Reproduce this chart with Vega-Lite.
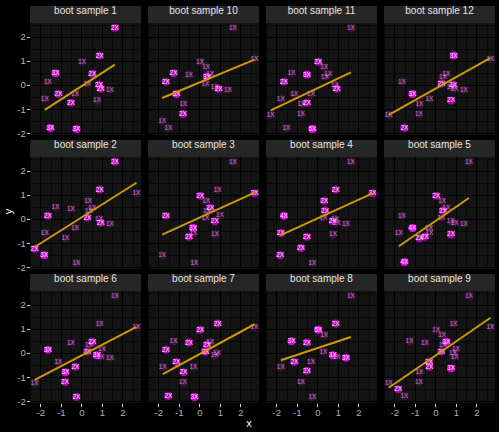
{
"$schema": "https://vega.github.io/schema/vega-lite/v6.json",
"background": "#000000",
"padding": {"left": 2, "top": 6, "right": 4, "bottom": 2},
"title": {"text": "x", "orient": "bottom", "anchor": "middle", "color": "#ffffff", "fontSize": 11, "fontWeight": "normal", "font": "Liberation Sans", "offset": 1},
"data": {"values": [
{"panel":"boot sample 1","kind":"strip"},
{"panel":"boot sample 2","kind":"strip"},
{"panel":"boot sample 3","kind":"strip"},
{"panel":"boot sample 4","kind":"strip"},
{"panel":"boot sample 5","kind":"strip"},
{"panel":"boot sample 6","kind":"strip"},
{"panel":"boot sample 7","kind":"strip"},
{"panel":"boot sample 8","kind":"strip"},
{"panel":"boot sample 9","kind":"strip"},
{"panel":"boot sample 10","kind":"strip"},
{"panel":"boot sample 11","kind":"strip"},
{"panel":"boot sample 12","kind":"strip"},
{"panel":"boot sample 1","kind":"pt","x":1.63,"y":2.37,"n":2,"label":"2X"},
{"panel":"boot sample 1","kind":"pt","x":0.89,"y":1.22,"n":2,"label":"2X"},
{"panel":"boot sample 1","kind":"pt","x":0.04,"y":0.96,"n":1,"label":"1X"},
{"panel":"boot sample 1","kind":"pt","x":-1.26,"y":0.49,"n":3,"label":"3X"},
{"panel":"boot sample 1","kind":"pt","x":0.53,"y":0.47,"n":2,"label":"2X"},
{"panel":"boot sample 1","kind":"pt","x":-1.63,"y":0.13,"n":1,"label":"1X"},
{"panel":"boot sample 1","kind":"pt","x":0.29,"y":0.06,"n":1,"label":"1X"},
{"panel":"boot sample 1","kind":"pt","x":0.86,"y":0.01,"n":2,"label":"2X"},
{"panel":"boot sample 1","kind":"pt","x":0.94,"y":-0.16,"n":2,"label":"2X"},
{"panel":"boot sample 1","kind":"pt","x":1.39,"y":-0.2,"n":1,"label":"1X"},
{"panel":"boot sample 1","kind":"pt","x":-1.12,"y":-0.37,"n":2,"label":"2X"},
{"panel":"boot sample 1","kind":"pt","x":-0.31,"y":-0.36,"n":1,"label":"1X"},
{"panel":"boot sample 1","kind":"pt","x":-1.78,"y":-0.58,"n":1,"label":"1X"},
{"panel":"boot sample 1","kind":"pt","x":-0.51,"y":-0.74,"n":2,"label":"2X"},
{"panel":"boot sample 1","kind":"pt","x":0.76,"y":-0.64,"n":1,"label":"1X"},
{"panel":"boot sample 1","kind":"pt","x":-1.51,"y":-1.78,"n":3,"label":"3X"},
{"panel":"boot sample 1","kind":"pt","x":-0.24,"y":-1.82,"n":3,"label":"3X"},
{"panel":"boot sample 1","kind":"ln","x":-1.78,"y":-1.03},
{"panel":"boot sample 1","kind":"ln","x":1.63,"y":0.84},

{"panel":"boot sample 10","kind":"pt","x":1.63,"y":2.37,"n":1,"label":"1X"},
{"panel":"boot sample 10","kind":"pt","x":2.68,"y":1.07,"n":1,"label":"1X"},
{"panel":"boot sample 10","kind":"pt","x":0.04,"y":0.96,"n":1,"label":"1X"},
{"panel":"boot sample 10","kind":"pt","x":0.33,"y":0.76,"n":1,"label":"1X"},
{"panel":"boot sample 10","kind":"pt","x":-1.26,"y":0.49,"n":2,"label":"2X"},
{"panel":"boot sample 10","kind":"pt","x":-0.51,"y":0.43,"n":1,"label":"1X"},
{"panel":"boot sample 10","kind":"pt","x":0.53,"y":0.47,"n":1,"label":"1X"},
{"panel":"boot sample 10","kind":"pt","x":0.37,"y":0.35,"n":3,"label":"3X"},
{"panel":"boot sample 10","kind":"pt","x":-1.63,"y":0.13,"n":2,"label":"2X"},
{"panel":"boot sample 10","kind":"pt","x":0.29,"y":0.06,"n":1,"label":"1X"},
{"panel":"boot sample 10","kind":"pt","x":0.75,"y":-0.09,"n":1,"label":"1X"},
{"panel":"boot sample 10","kind":"pt","x":0.94,"y":-0.16,"n":2,"label":"2X"},
{"panel":"boot sample 10","kind":"pt","x":1.39,"y":-0.2,"n":1,"label":"1X"},
{"panel":"boot sample 10","kind":"pt","x":-1.12,"y":-0.37,"n":3,"label":"3X"},
{"panel":"boot sample 10","kind":"pt","x":-0.78,"y":-0.8,"n":1,"label":"1X"},
{"panel":"boot sample 10","kind":"pt","x":-0.8,"y":-1.2,"n":2,"label":"2X"},
{"panel":"boot sample 10","kind":"pt","x":-1.81,"y":-1.5,"n":1,"label":"1X"},
{"panel":"boot sample 10","kind":"pt","x":-1.51,"y":-1.78,"n":1,"label":"1X"},
{"panel":"boot sample 10","kind":"ln","x":-1.81,"y":-0.54},
{"panel":"boot sample 10","kind":"ln","x":2.68,"y":1.05},

{"panel":"boot sample 11","kind":"pt","x":1.63,"y":2.37,"n":1,"label":"1X"},
{"panel":"boot sample 11","kind":"pt","x":0.04,"y":0.96,"n":2,"label":"2X"},
{"panel":"boot sample 11","kind":"pt","x":0.33,"y":0.76,"n":1,"label":"1X"},
{"panel":"boot sample 11","kind":"pt","x":-1.26,"y":0.49,"n":1,"label":"1X"},
{"panel":"boot sample 11","kind":"pt","x":-0.51,"y":0.43,"n":3,"label":"3X"},
{"panel":"boot sample 11","kind":"pt","x":0.53,"y":0.47,"n":1,"label":"1X"},
{"panel":"boot sample 11","kind":"pt","x":0.37,"y":0.35,"n":1,"label":"1X"},
{"panel":"boot sample 11","kind":"pt","x":-1.63,"y":0.13,"n":2,"label":"2X"},
{"panel":"boot sample 11","kind":"pt","x":0.86,"y":0.01,"n":1,"label":"1X"},
{"panel":"boot sample 11","kind":"pt","x":0.94,"y":-0.16,"n":2,"label":"2X"},
{"panel":"boot sample 11","kind":"pt","x":-1.12,"y":-0.37,"n":1,"label":"1X"},
{"panel":"boot sample 11","kind":"pt","x":-0.31,"y":-0.36,"n":1,"label":"1X"},
{"panel":"boot sample 11","kind":"pt","x":-1.78,"y":-0.58,"n":1,"label":"1X"},
{"panel":"boot sample 11","kind":"pt","x":-0.78,"y":-0.8,"n":1,"label":"1X"},
{"panel":"boot sample 11","kind":"pt","x":-0.51,"y":-0.74,"n":2,"label":"2X"},
{"panel":"boot sample 11","kind":"pt","x":-2.27,"y":-1.23,"n":1,"label":"1X"},
{"panel":"boot sample 11","kind":"pt","x":-0.8,"y":-1.2,"n":1,"label":"1X"},
{"panel":"boot sample 11","kind":"pt","x":-1.51,"y":-1.78,"n":1,"label":"1X"},
{"panel":"boot sample 11","kind":"pt","x":-0.24,"y":-1.82,"n":5,"label":"5X"},
{"panel":"boot sample 11","kind":"ln","x":-2.27,"y":-1.05},
{"panel":"boot sample 11","kind":"ln","x":1.63,"y":0.52},

{"panel":"boot sample 12","kind":"pt","x":0.89,"y":1.22,"n":3,"label":"3X"},
{"panel":"boot sample 12","kind":"pt","x":2.68,"y":1.07,"n":1,"label":"1X"},
{"panel":"boot sample 12","kind":"pt","x":-1.63,"y":0.13,"n":1,"label":"1X"},
{"panel":"boot sample 12","kind":"pt","x":0.53,"y":0.47,"n":1,"label":"1X"},
{"panel":"boot sample 12","kind":"pt","x":0.37,"y":0.35,"n":1,"label":"1X"},
{"panel":"boot sample 12","kind":"pt","x":0.29,"y":0.06,"n":2,"label":"2X"},
{"panel":"boot sample 12","kind":"pt","x":0.86,"y":0.01,"n":2,"label":"2X"},
{"panel":"boot sample 12","kind":"pt","x":0.75,"y":-0.09,"n":1,"label":"1X"},
{"panel":"boot sample 12","kind":"pt","x":0.94,"y":-0.16,"n":1,"label":"1X"},
{"panel":"boot sample 12","kind":"pt","x":1.39,"y":-0.2,"n":1,"label":"1X"},
{"panel":"boot sample 12","kind":"pt","x":-1.12,"y":-0.37,"n":3,"label":"3X"},
{"panel":"boot sample 12","kind":"pt","x":-0.29,"y":-0.57,"n":1,"label":"1X"},
{"panel":"boot sample 12","kind":"pt","x":-0.78,"y":-0.8,"n":1,"label":"1X"},
{"panel":"boot sample 12","kind":"pt","x":0.76,"y":-0.64,"n":2,"label":"2X"},
{"panel":"boot sample 12","kind":"pt","x":-2.27,"y":-1.23,"n":1,"label":"1X"},
{"panel":"boot sample 12","kind":"pt","x":-0.8,"y":-1.2,"n":1,"label":"1X"},
{"panel":"boot sample 12","kind":"pt","x":-1.51,"y":-1.78,"n":2,"label":"2X"},
{"panel":"boot sample 12","kind":"ln","x":-2.27,"y":-1.24},
{"panel":"boot sample 12","kind":"ln","x":2.68,"y":1.12},

{"panel":"boot sample 2","kind":"pt","x":1.63,"y":2.37,"n":2,"label":"2X"},
{"panel":"boot sample 2","kind":"pt","x":0.89,"y":1.22,"n":2,"label":"2X"},
{"panel":"boot sample 2","kind":"pt","x":2.68,"y":1.07,"n":1,"label":"1X"},
{"panel":"boot sample 2","kind":"pt","x":0.33,"y":0.76,"n":1,"label":"1X"},
{"panel":"boot sample 2","kind":"pt","x":-1.26,"y":0.49,"n":1,"label":"1X"},
{"panel":"boot sample 2","kind":"pt","x":-0.51,"y":0.43,"n":1,"label":"1X"},
{"panel":"boot sample 2","kind":"pt","x":0.37,"y":0.35,"n":1,"label":"1X"},
{"panel":"boot sample 2","kind":"pt","x":0.53,"y":0.47,"n":1,"label":"1X"},
{"panel":"boot sample 2","kind":"pt","x":-1.63,"y":0.13,"n":2,"label":"2X"},
{"panel":"boot sample 2","kind":"pt","x":0.29,"y":0.06,"n":2,"label":"2X"},
{"panel":"boot sample 2","kind":"pt","x":0.86,"y":0.01,"n":1,"label":"1X"},
{"panel":"boot sample 2","kind":"pt","x":0.94,"y":-0.16,"n":2,"label":"2X"},
{"panel":"boot sample 2","kind":"pt","x":1.39,"y":-0.2,"n":1,"label":"1X"},
{"panel":"boot sample 2","kind":"pt","x":-0.31,"y":-0.36,"n":1,"label":"1X"},
{"panel":"boot sample 2","kind":"pt","x":-1.78,"y":-0.58,"n":1,"label":"1X"},
{"panel":"boot sample 2","kind":"pt","x":-0.78,"y":-0.8,"n":1,"label":"1X"},
{"panel":"boot sample 2","kind":"pt","x":-2.27,"y":-1.23,"n":2,"label":"2X"},
{"panel":"boot sample 2","kind":"pt","x":-1.81,"y":-1.5,"n":3,"label":"3X"},
{"panel":"boot sample 2","kind":"pt","x":-0.24,"y":-1.82,"n":1,"label":"1X"},
{"panel":"boot sample 2","kind":"ln","x":-2.27,"y":-1.16},
{"panel":"boot sample 2","kind":"ln","x":2.68,"y":1.5},

{"panel":"boot sample 3","kind":"pt","x":1.63,"y":2.37,"n":1,"label":"1X"},
{"panel":"boot sample 3","kind":"pt","x":0.89,"y":1.22,"n":1,"label":"1X"},
{"panel":"boot sample 3","kind":"pt","x":2.68,"y":1.07,"n":2,"label":"2X"},
{"panel":"boot sample 3","kind":"pt","x":0.04,"y":0.96,"n":2,"label":"2X"},
{"panel":"boot sample 3","kind":"pt","x":0.33,"y":0.76,"n":1,"label":"1X"},
{"panel":"boot sample 3","kind":"pt","x":0.53,"y":0.47,"n":2,"label":"2X"},
{"panel":"boot sample 3","kind":"pt","x":0.37,"y":0.35,"n":1,"label":"1X"},
{"panel":"boot sample 3","kind":"pt","x":0.29,"y":0.06,"n":1,"label":"1X"},
{"panel":"boot sample 3","kind":"pt","x":1.0,"y":0.15,"n":1,"label":"1X"},
{"panel":"boot sample 3","kind":"pt","x":-1.63,"y":0.13,"n":2,"label":"2X"},
{"panel":"boot sample 3","kind":"pt","x":0.75,"y":-0.09,"n":2,"label":"2X"},
{"panel":"boot sample 3","kind":"pt","x":-0.31,"y":-0.36,"n":3,"label":"3X"},
{"panel":"boot sample 3","kind":"pt","x":-0.29,"y":-0.57,"n":1,"label":"1X"},
{"panel":"boot sample 3","kind":"pt","x":-0.51,"y":-0.74,"n":2,"label":"2X"},
{"panel":"boot sample 3","kind":"pt","x":0.76,"y":-0.64,"n":1,"label":"1X"},
{"panel":"boot sample 3","kind":"pt","x":-1.81,"y":-1.5,"n":1,"label":"1X"},
{"panel":"boot sample 3","kind":"pt","x":-0.24,"y":-1.82,"n":1,"label":"1X"},
{"panel":"boot sample 3","kind":"ln","x":-1.81,"y":-0.65},
{"panel":"boot sample 3","kind":"ln","x":2.68,"y":1.09},

{"panel":"boot sample 4","kind":"pt","x":1.63,"y":2.37,"n":1,"label":"1X"},
{"panel":"boot sample 4","kind":"pt","x":0.89,"y":1.22,"n":2,"label":"2X"},
{"panel":"boot sample 4","kind":"pt","x":2.68,"y":1.07,"n":2,"label":"2X"},
{"panel":"boot sample 4","kind":"pt","x":0.33,"y":0.76,"n":2,"label":"2X"},
{"panel":"boot sample 4","kind":"pt","x":-1.63,"y":0.13,"n":4,"label":"4X"},
{"panel":"boot sample 4","kind":"pt","x":0.37,"y":0.35,"n":2,"label":"2X"},
{"panel":"boot sample 4","kind":"pt","x":0.29,"y":0.06,"n":1,"label":"1X"},
{"panel":"boot sample 4","kind":"pt","x":0.75,"y":-0.09,"n":2,"label":"2X"},
{"panel":"boot sample 4","kind":"pt","x":0.86,"y":0.01,"n":1,"label":"1X"},
{"panel":"boot sample 4","kind":"pt","x":0.94,"y":-0.16,"n":1,"label":"1X"},
{"panel":"boot sample 4","kind":"pt","x":1.39,"y":-0.2,"n":1,"label":"1X"},
{"panel":"boot sample 4","kind":"pt","x":-1.78,"y":-0.58,"n":2,"label":"2X"},
{"panel":"boot sample 4","kind":"pt","x":-0.51,"y":-0.74,"n":2,"label":"2X"},
{"panel":"boot sample 4","kind":"pt","x":0.76,"y":-0.64,"n":1,"label":"1X"},
{"panel":"boot sample 4","kind":"pt","x":-0.8,"y":-1.2,"n":2,"label":"2X"},
{"panel":"boot sample 4","kind":"pt","x":-1.81,"y":-1.5,"n":2,"label":"2X"},
{"panel":"boot sample 4","kind":"pt","x":-0.24,"y":-1.82,"n":1,"label":"1X"},
{"panel":"boot sample 4","kind":"ln","x":-1.81,"y":-0.68},
{"panel":"boot sample 4","kind":"ln","x":2.68,"y":1.06},

{"panel":"boot sample 5","kind":"pt","x":1.63,"y":2.37,"n":1,"label":"1X"},
{"panel":"boot sample 5","kind":"pt","x":0.04,"y":0.96,"n":2,"label":"2X"},
{"panel":"boot sample 5","kind":"pt","x":0.33,"y":0.76,"n":1,"label":"1X"},
{"panel":"boot sample 5","kind":"pt","x":0.37,"y":0.35,"n":2,"label":"2X"},
{"panel":"boot sample 5","kind":"pt","x":0.53,"y":0.47,"n":1,"label":"1X"},
{"panel":"boot sample 5","kind":"pt","x":0.29,"y":0.06,"n":1,"label":"1X"},
{"panel":"boot sample 5","kind":"pt","x":-1.63,"y":0.13,"n":1,"label":"1X"},
{"panel":"boot sample 5","kind":"pt","x":0.75,"y":-0.09,"n":1,"label":"1X"},
{"panel":"boot sample 5","kind":"pt","x":0.94,"y":-0.16,"n":1,"label":"1X"},
{"panel":"boot sample 5","kind":"pt","x":1.39,"y":-0.2,"n":1,"label":"1X"},
{"panel":"boot sample 5","kind":"pt","x":-1.12,"y":-0.37,"n":4,"label":"4X"},
{"panel":"boot sample 5","kind":"pt","x":-0.31,"y":-0.36,"n":1,"label":"1X"},
{"panel":"boot sample 5","kind":"pt","x":-0.29,"y":-0.57,"n":1,"label":"1X"},
{"panel":"boot sample 5","kind":"pt","x":-1.78,"y":-0.58,"n":1,"label":"1X"},
{"panel":"boot sample 5","kind":"pt","x":-0.78,"y":-0.8,"n":2,"label":"2X"},
{"panel":"boot sample 5","kind":"pt","x":-0.51,"y":-0.74,"n":2,"label":"2X"},
{"panel":"boot sample 5","kind":"pt","x":0.76,"y":-0.64,"n":2,"label":"2X"},
{"panel":"boot sample 5","kind":"pt","x":-1.51,"y":-1.78,"n":4,"label":"4X"},
{"panel":"boot sample 5","kind":"ln","x":-1.78,"y":-1.13},
{"panel":"boot sample 5","kind":"ln","x":1.63,"y":0.87},

{"panel":"boot sample 6","kind":"pt","x":1.63,"y":2.37,"n":1,"label":"1X"},
{"panel":"boot sample 6","kind":"pt","x":0.89,"y":1.22,"n":1,"label":"1X"},
{"panel":"boot sample 6","kind":"pt","x":2.68,"y":1.07,"n":1,"label":"1X"},
{"panel":"boot sample 6","kind":"pt","x":-0.51,"y":0.43,"n":1,"label":"1X"},
{"panel":"boot sample 6","kind":"pt","x":0.53,"y":0.47,"n":2,"label":"2X"},
{"panel":"boot sample 6","kind":"pt","x":0.37,"y":0.35,"n":1,"label":"1X"},
{"panel":"boot sample 6","kind":"pt","x":0.29,"y":0.06,"n":2,"label":"2X"},
{"panel":"boot sample 6","kind":"pt","x":-1.63,"y":0.13,"n":3,"label":"3X"},
{"panel":"boot sample 6","kind":"pt","x":1.0,"y":0.15,"n":1,"label":"1X"},
{"panel":"boot sample 6","kind":"pt","x":0.75,"y":-0.09,"n":3,"label":"3X"},
{"panel":"boot sample 6","kind":"pt","x":0.94,"y":-0.16,"n":1,"label":"1X"},
{"panel":"boot sample 6","kind":"pt","x":1.39,"y":-0.2,"n":1,"label":"1X"},
{"panel":"boot sample 6","kind":"pt","x":-1.12,"y":-0.37,"n":1,"label":"1X"},
{"panel":"boot sample 6","kind":"pt","x":-0.29,"y":-0.57,"n":2,"label":"2X"},
{"panel":"boot sample 6","kind":"pt","x":-0.78,"y":-0.8,"n":3,"label":"3X"},
{"panel":"boot sample 6","kind":"pt","x":-0.8,"y":-1.2,"n":2,"label":"2X"},
{"panel":"boot sample 6","kind":"pt","x":-2.27,"y":-1.23,"n":1,"label":"1X"},
{"panel":"boot sample 6","kind":"pt","x":-0.24,"y":-1.82,"n":2,"label":"2X"},
{"panel":"boot sample 6","kind":"ln","x":-2.27,"y":-1.11},
{"panel":"boot sample 6","kind":"ln","x":2.68,"y":1.08},

{"panel":"boot sample 7","kind":"pt","x":0.89,"y":1.22,"n":2,"label":"2X"},
{"panel":"boot sample 7","kind":"pt","x":2.68,"y":1.07,"n":1,"label":"1X"},
{"panel":"boot sample 7","kind":"pt","x":0.04,"y":0.96,"n":2,"label":"2X"},
{"panel":"boot sample 7","kind":"pt","x":-1.26,"y":0.49,"n":1,"label":"1X"},
{"panel":"boot sample 7","kind":"pt","x":-0.51,"y":0.43,"n":2,"label":"2X"},
{"panel":"boot sample 7","kind":"pt","x":0.37,"y":0.35,"n":2,"label":"2X"},
{"panel":"boot sample 7","kind":"pt","x":0.53,"y":0.47,"n":1,"label":"1X"},
{"panel":"boot sample 7","kind":"pt","x":-1.63,"y":0.13,"n":2,"label":"2X"},
{"panel":"boot sample 7","kind":"pt","x":0.29,"y":0.06,"n":3,"label":"3X"},
{"panel":"boot sample 7","kind":"pt","x":0.75,"y":-0.09,"n":1,"label":"1X"},
{"panel":"boot sample 7","kind":"pt","x":0.86,"y":0.01,"n":1,"label":"1X"},
{"panel":"boot sample 7","kind":"pt","x":-1.12,"y":-0.37,"n":2,"label":"2X"},
{"panel":"boot sample 7","kind":"pt","x":-0.29,"y":-0.57,"n":1,"label":"1X"},
{"panel":"boot sample 7","kind":"pt","x":-1.78,"y":-0.58,"n":1,"label":"1X"},
{"panel":"boot sample 7","kind":"pt","x":-0.78,"y":-0.8,"n":2,"label":"2X"},
{"panel":"boot sample 7","kind":"pt","x":-0.8,"y":-1.2,"n":1,"label":"1X"},
{"panel":"boot sample 7","kind":"pt","x":-1.51,"y":-1.78,"n":2,"label":"2X"},
{"panel":"boot sample 7","kind":"pt","x":-0.24,"y":-1.82,"n":3,"label":"3X"},
{"panel":"boot sample 7","kind":"ln","x":-1.78,"y":-0.87},
{"panel":"boot sample 7","kind":"ln","x":2.68,"y":1.19},

{"panel":"boot sample 8","kind":"pt","x":1.63,"y":2.37,"n":1,"label":"1X"},
{"panel":"boot sample 8","kind":"pt","x":0.89,"y":1.22,"n":2,"label":"2X"},
{"panel":"boot sample 8","kind":"pt","x":0.04,"y":0.96,"n":5,"label":"5X"},
{"panel":"boot sample 8","kind":"pt","x":0.33,"y":0.76,"n":1,"label":"1X"},
{"panel":"boot sample 8","kind":"pt","x":-1.26,"y":0.49,"n":3,"label":"3X"},
{"panel":"boot sample 8","kind":"pt","x":-0.51,"y":0.43,"n":2,"label":"2X"},
{"panel":"boot sample 8","kind":"pt","x":0.29,"y":0.06,"n":1,"label":"1X"},
{"panel":"boot sample 8","kind":"pt","x":0.75,"y":-0.09,"n":3,"label":"3X"},
{"panel":"boot sample 8","kind":"pt","x":0.94,"y":-0.16,"n":1,"label":"1X"},
{"panel":"boot sample 8","kind":"pt","x":1.39,"y":-0.2,"n":3,"label":"3X"},
{"panel":"boot sample 8","kind":"pt","x":-1.12,"y":-0.37,"n":2,"label":"2X"},
{"panel":"boot sample 8","kind":"pt","x":-0.31,"y":-0.36,"n":1,"label":"1X"},
{"panel":"boot sample 8","kind":"pt","x":-1.78,"y":-0.58,"n":1,"label":"1X"},
{"panel":"boot sample 8","kind":"pt","x":-0.51,"y":-0.74,"n":2,"label":"2X"},
{"panel":"boot sample 8","kind":"pt","x":-0.8,"y":-1.2,"n":1,"label":"1X"},
{"panel":"boot sample 8","kind":"pt","x":-0.24,"y":-1.82,"n":1,"label":"1X"},
{"panel":"boot sample 8","kind":"ln","x":-1.78,"y":-0.3},
{"panel":"boot sample 8","kind":"ln","x":1.63,"y":0.66},

{"panel":"boot sample 9","kind":"pt","x":1.63,"y":2.37,"n":1,"label":"1X"},
{"panel":"boot sample 9","kind":"pt","x":0.89,"y":1.22,"n":1,"label":"1X"},
{"panel":"boot sample 9","kind":"pt","x":2.68,"y":1.07,"n":1,"label":"1X"},
{"panel":"boot sample 9","kind":"pt","x":0.04,"y":0.96,"n":1,"label":"1X"},
{"panel":"boot sample 9","kind":"pt","x":0.33,"y":0.76,"n":1,"label":"1X"},
{"panel":"boot sample 9","kind":"pt","x":-1.26,"y":0.49,"n":1,"label":"1X"},
{"panel":"boot sample 9","kind":"pt","x":-0.51,"y":0.43,"n":1,"label":"1X"},
{"panel":"boot sample 9","kind":"pt","x":0.53,"y":0.47,"n":3,"label":"3X"},
{"panel":"boot sample 9","kind":"pt","x":0.37,"y":0.35,"n":1,"label":"1X"},
{"panel":"boot sample 9","kind":"pt","x":0.29,"y":0.06,"n":2,"label":"2X"},
{"panel":"boot sample 9","kind":"pt","x":1.0,"y":0.15,"n":1,"label":"1X"},
{"panel":"boot sample 9","kind":"pt","x":0.86,"y":0.01,"n":1,"label":"1X"},
{"panel":"boot sample 9","kind":"pt","x":0.94,"y":-0.16,"n":1,"label":"1X"},
{"panel":"boot sample 9","kind":"pt","x":-0.31,"y":-0.36,"n":2,"label":"2X"},
{"panel":"boot sample 9","kind":"pt","x":-0.29,"y":-0.57,"n":2,"label":"2X"},
{"panel":"boot sample 9","kind":"pt","x":-0.78,"y":-0.8,"n":1,"label":"1X"},
{"panel":"boot sample 9","kind":"pt","x":0.76,"y":-0.64,"n":3,"label":"3X"},
{"panel":"boot sample 9","kind":"pt","x":-2.27,"y":-1.23,"n":1,"label":"1X"},
{"panel":"boot sample 9","kind":"pt","x":-0.8,"y":-1.2,"n":1,"label":"1X"},
{"panel":"boot sample 9","kind":"pt","x":-1.81,"y":-1.5,"n":2,"label":"2X"},
{"panel":"boot sample 9","kind":"pt","x":-1.51,"y":-1.78,"n":1,"label":"1X"},
{"panel":"boot sample 9","kind":"ln","x":-2.27,"y":-1.44},
{"panel":"boot sample 9","kind":"ln","x":2.68,"y":1.46}
]},
"vconcat": [{
"title": {"text": "y", "orient": "left", "anchor": "middle", "color": "#ffffff", "fontSize": 11, "fontWeight": "normal", "font": "Liberation Sans", "offset": 3},
"facet": {"field": "panel", "type": "nominal", "header": {"title": null, "titlePadding": 0, "labelPadding": -10, "labelColor": "#e5e5e5", "labelFontSize": 10, "labelFont": "Liberation Sans"}},
"columns": 4,
"spacing": {"row": 5, "column": 7},
"spec": {
  "width": 111,
  "height": 129,
  "resolve": {"axis": {"x": "independent", "y": "independent"}},
  "layer": [
    {"transform": [{"filter": "datum.kind == 'strip'"}],
     "mark": {"type": "rect", "fill": "#262626"},
     "encoding": {
      "x": {"datum": -2.5, "type": "quantitative", "title": null,
        "scale": {"domain": [-2.5, 2.9], "nice": false, "zero": false},
        "axis": {"orient": "top", "values": [-2.5,-1.5,-0.5,0.5,1.5,2.5], "grid": true, "gridColor": "#000000", "gridWidth": 0.55, "labels": false, "ticks": false, "domain": false, "title": null}},
      "x2": {"datum": 2.9},
      "y": {"datum": 2.57, "type": "quantitative", "title": null,
        "scale": {"domain": [-2.07, 3.27], "nice": false, "zero": false},
        "axis": {"orient": "right", "values": [-1.5,-0.5,0.5,1.5,2.5], "grid": true, "gridColor": "#000000", "gridWidth": 0.55, "labels": false, "ticks": false, "domain": false, "title": null}},
      "y2": {"datum": 3.27}}},
    {"transform": [{"filter": "datum.kind == 'pt'"}],
     "mark": {"type": "circle", "color": "#ff00ff", "size": 64},
     "encoding": {
      "x": {"field": "x", "type": "quantitative", "title": null,
        "axis": {"orient": "bottom", "values": [-2,-1,0,1,2], "format": "d", "labelExpr": "toString(datum.value)",
          "grid": true, "gridColor": "#000000", "gridWidth": 1.1,
          "domain": false, "tickColor": "#cccccc", "tickSize": 3.7, "tickWidth": 1,
          "labelColor": "#b3b3b3", "labelFontSize": 9.5, "labelFont": "Liberation Sans", "labelPadding": 1, "labelFlush": false, "labelOverlap": false}},
      "y": {"field": "y", "type": "quantitative", "title": null,
        "axis": {"orient": "left", "values": [-2,-1,0,1,2], "format": "d", "labelExpr": "toString(datum.value)",
          "grid": true, "gridColor": "#000000", "gridWidth": 1.1,
          "domain": false, "tickColor": "#cccccc", "tickSize": 3.7, "tickWidth": 1,
          "labelColor": "#b3b3b3", "labelFontSize": 9.5, "labelFont": "Liberation Sans", "labelPadding": 1, "labelFlush": false, "labelOverlap": false}},
      "opacity": {"field": "n", "type": "quantitative", "legend": null,
        "scale": {"domain": [1, 2, 3, 5], "range": [0.2, 0.65, 0.85, 1]}}}},
    {"transform": [{"filter": "datum.kind == 'pt'"}],
     "mark": {"type": "text", "color": "#ffffff", "fontSize": 6.5, "font": "Liberation Sans", "baseline": "middle", "align": "center"},
     "encoding": {
      "x": {"field": "x", "type": "quantitative", "title": null, "axis": null},
      "y": {"field": "y", "type": "quantitative", "title": null, "axis": null},
      "text": {"field": "label"},
      "opacity": {"condition": {"test": "datum.n == 1", "value": 0.5}, "value": 0.9}}},
    {"transform": [{"filter": "datum.kind == 'ln'"}],
     "mark": {"type": "line", "color": "#cc9900", "strokeWidth": 2},
     "encoding": {
      "x": {"field": "x", "type": "quantitative", "title": null, "axis": null},
      "y": {"field": "y", "type": "quantitative", "title": null, "axis": null}}}
  ]
}
}],
"config": {
  "view": {"fill": "#141414", "stroke": null},
  "concat": {"spacing": 0}
}
}
